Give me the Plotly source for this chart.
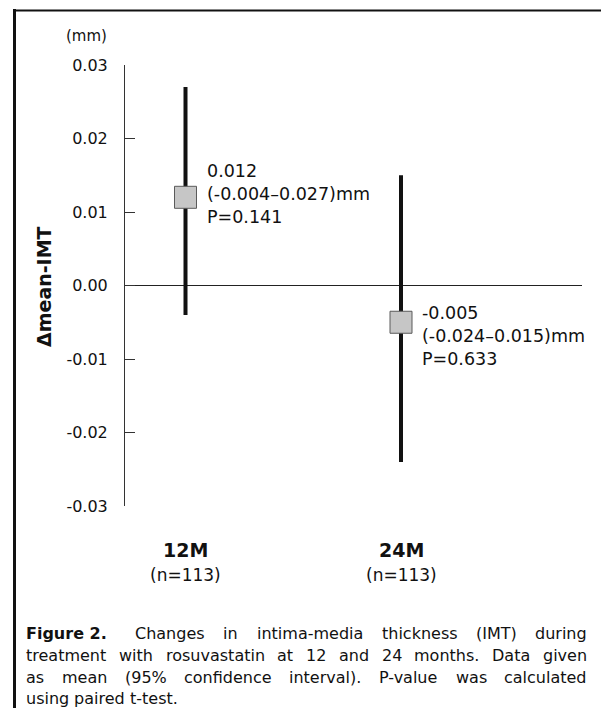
import plotly.graph_objects as go

# ---- data ----
categories = ["12M", "24M"]
n_labels = ["(n=113)", "(n=113)"]
mean_vals = [0.012, -0.005]
ci_lower = [-0.004, -0.024]
ci_upper = [0.027, 0.015]
p_values = ["0.141", "0.633"]
ytick_vals = [0.03, 0.02, 0.01, 0.00, -0.01, -0.02, -0.03]
ytick_text = ["0.03", "0.02", "0.01", "0.00", "-0.01", "-0.02", "-0.03"]
caption_label = "Figure 2."
caption_lines = [
    "Changes in intima-media thickness (IMT) during",
    "treatment with rosuvastatin at 12 and 24 months. Data given",
    "as mean (95% confidence interval). P-value was calculated",
    "using paired t-test.",
]

# ---- layout geometry (reference pixels; page body has an 8px margin) ----
OFF = 8
W, H = 609 - OFF, 708 - OFF
L, R, T, B = 125, 582, 65, 506  # plot area in reference pixels
FONT = "DejaVu Sans, Verdana, sans-serif"

xpos = [1, 2]
unit = 215.5
x_lo = 1 - (185.5 - L) / unit
x_hi = x_lo + (R - L) / unit
err_plus = [u - m for u, m in zip(ci_upper, mean_vals)]
err_minus = [m - l for m, l in zip(mean_vals, ci_lower)]


def px_x(p):
    return (p - L) / (R - L)


def px_y(p):
    return (B - p) / (B - T)


# approximate DejaVu Sans advance widths (units per em = 2048)
_W = {" ": 651, "%": 1946, "(": 799, ")": 799, "-": 739, ".": 651, ",": 651,
      "C": 1430, "D": 1577, "I": 604, "M": 1767, "P": 1235, "T": 1251,
      "a": 1255, "b": 1300, "c": 1126, "d": 1300, "e": 1260, "f": 721,
      "g": 1300, "h": 1298, "i": 569, "k": 1186, "l": 569, "m": 1995,
      "n": 1298, "o": 1253, "p": 1300, "r": 842, "s": 1067, "t": 803,
      "u": 1298, "v": 1212, "w": 1675, "x": 1212, "y": 1212, "z": 1075}
for d in "0123456789":
    _W[d] = 1303
_WB = {"F": 1399, "i": 702, "g": 1466, "u": 1458, "r": 1010, "e": 1389,
       " ": 713, "2": 1425, ".": 778}


def text_w(s, size, bold=False):
    tab = _WB if bold else _W
    return sum(tab.get(ch, 1200) for ch in s) / 2048 * size


fig = go.Figure()
fig.add_trace(go.Scatter(
    x=xpos, y=mean_vals, mode="markers",
    marker=dict(symbol="square", size=22, color="#c6c6c6",
                line=dict(color="#5a5a5a", width=1)),
    error_y=dict(type="data", symmetric=False, array=err_plus,
                 arrayminus=err_minus, thickness=4, width=0, color="#111111"),
    showlegend=False, hoverinfo="skip",
))

annotations = []
# value labels beside the markers
label_yshift = [3, -14]
for x, m, lo, hi, p, ys in zip(xpos, mean_vals, ci_lower, ci_upper, p_values, label_yshift):
    txt = f"{m:.3f}<br>({lo:.3f}\u2013{hi:.3f})mm<br>P={p}"
    annotations.append(dict(
        x=x, y=m, xref="x", yref="y", text=txt, showarrow=False,
        xanchor="left", yanchor="middle", xshift=21, yshift=ys, align="left",
        borderpad=0, borderwidth=0,
        font=dict(family=FONT, size=17.5, color="#111111"),
    ))

# category labels
for x, c, n in zip(xpos, categories, n_labels):
    annotations.append(dict(
        x=x, y=px_y(550), xref="x", yref="paper", text=f"<b>{c}</b>",
        showarrow=False, xanchor="center", yanchor="middle",
        font=dict(family=FONT, size=19, color="#111111"),
    ))
    annotations.append(dict(
        x=x, y=px_y(575), xref="x", yref="paper", text=n,
        showarrow=False, xanchor="center", yanchor="middle",
        font=dict(family=FONT, size=17, color="#111111"),
    ))

# (mm) unit
annotations.append(dict(
    x=px_x(86), y=px_y(36), xref="paper", yref="paper", text="(mm)",
    showarrow=False, xanchor="center", yanchor="middle",
    font=dict(family=FONT, size=15, color="#111111"),
))
# y-axis title
annotations.append(dict(
    x=px_x(44), y=px_y(287), xref="paper", yref="paper", text="<b>\u0394mean-IMT</b>",
    showarrow=False, xanchor="center", yanchor="middle", textangle=-90,
    font=dict(family=FONT, size=19, color="#111111"),
))

# caption, justified between CAP_L and CAP_R (last line left-aligned)
CAP_L, CAP_R = 26, 587
CAP_SIZE = 16
cap_y = [633, 655, 677, 698]
for i, (line, yy) in enumerate(zip(caption_lines, cap_y)):
    words = line.split(" ")
    tokens = [(w, False, 1.0) for w in words]
    if i == 0:
        tokens = [(caption_label, True, 1.5)] + tokens
    widths = [text_w(w, CAP_SIZE, b) for w, b, _ in tokens]
    last = i == len(caption_lines) - 1
    weights = [t[2] for t in tokens[:-1]]
    if last:
        gaps = [text_w(" ", CAP_SIZE) * wt for wt in weights]
    else:
        free = (CAP_R - CAP_L) - sum(widths)
        gaps = [free * wt / sum(weights) for wt in weights]
    xcur = CAP_L
    for j, ((w, b, _), ww) in enumerate(zip(tokens, widths)):
        annotations.append(dict(
            x=px_x(xcur), y=px_y(yy), xref="paper", yref="paper",
            text=f"<b>{w}</b>" if b else w, showarrow=False,
            xanchor="left", yanchor="middle", borderpad=0, borderwidth=0,
            font=dict(family=FONT, size=CAP_SIZE, color="#111111"),
        ))
        if j < len(gaps):
            xcur += ww + gaps[j]

shapes = [
    # outer frame
    dict(type="line", xref="paper", yref="paper", x0=px_x(14.5), x1=px_x(14.5),
         y0=px_y(9), y1=px_y(730), line=dict(color="#111111", width=3)),
    dict(type="line", xref="paper", yref="paper", x0=px_x(13), x1=px_x(607),
         y0=px_y(10.5), y1=px_y(10.5), line=dict(color="#111111", width=2)),
    dict(type="line", xref="paper", yref="paper", x0=px_x(606), x1=px_x(606),
         y0=px_y(9.5), y1=px_y(730), line=dict(color="#222222", width=2)),
]

fig.update_layout(
    width=W, height=H,
    margin=dict(l=L - OFF, r=W - (R - OFF), t=T - OFF, b=H - (B - OFF), pad=0),
    paper_bgcolor="white", plot_bgcolor="white",
    xaxis=dict(range=[x_lo, x_hi], showgrid=False,
               zeroline=False, showline=False, showticklabels=False, ticks=""),
    yaxis=dict(range=[-0.03, 0.03], tickvals=ytick_vals, ticktext=ytick_text,
               showgrid=False, zeroline=True, zerolinecolor="#222222",
               zerolinewidth=1, showline=True, linecolor="#333333", linewidth=1,
               ticks="inside", ticklen=10, tickwidth=1, tickcolor="#333333",
               ticklabelstandoff=13,
               tickfont=dict(family=FONT, size=16, color="#111111")),
    annotations=annotations, shapes=shapes,
)

fig.write_html("out.html")
